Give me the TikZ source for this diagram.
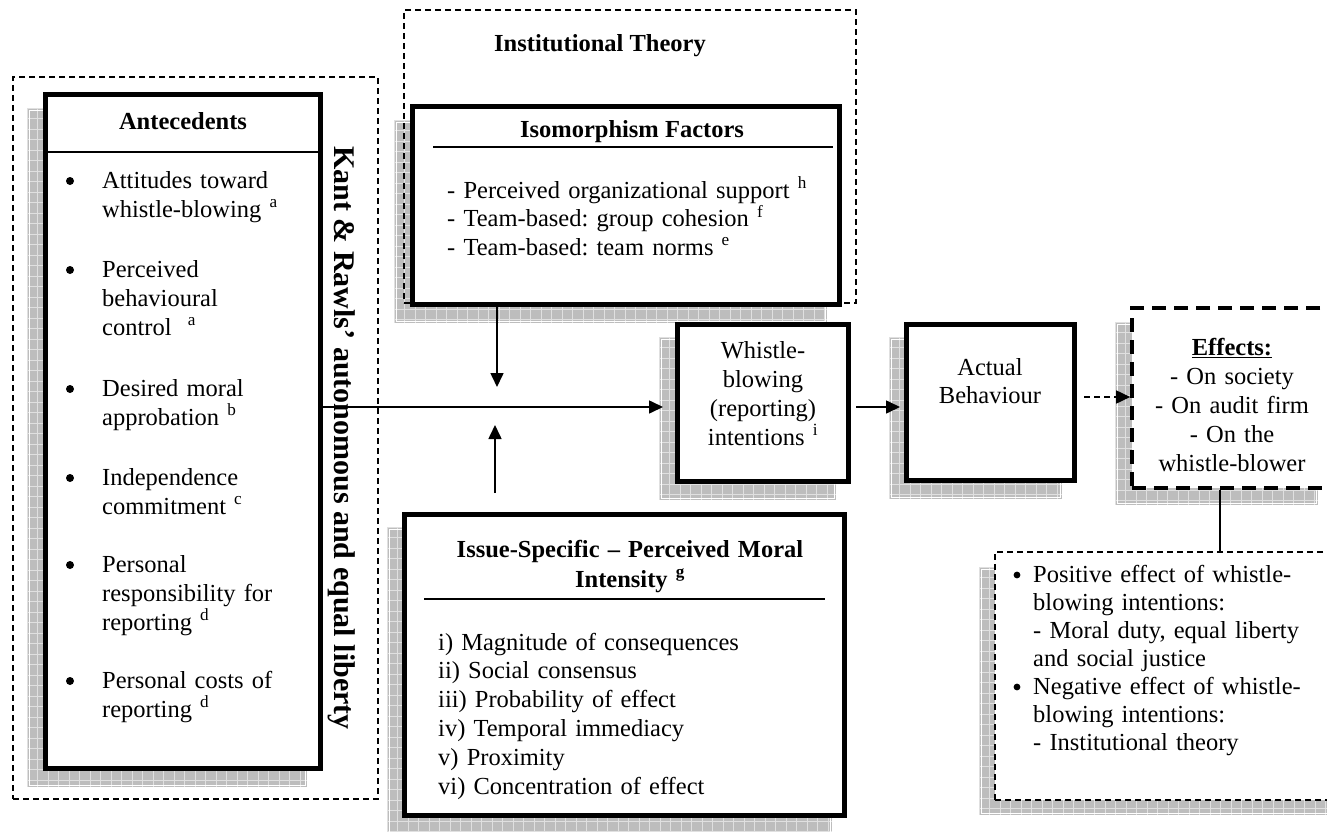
\documentclass[tikz,border=0pt]{standalone}
\usepackage{fontspec}
\setmainfont{Liberation Serif}
\usetikzlibrary{arrows.meta}
\frenchspacing

\colorlet{shadowfill}{black!26}
\colorlet{shadowline}{black!12}

\tikzset{
  thickbox/.style={draw, line width=5pt, fill=white, inner sep=0pt},
  thinframe/.style={draw, line width=1.3pt, dash pattern=on 6pt off 4pt, inner sep=0pt},
  boldframe/.style={draw, fill=white, line width=3.6pt, dash pattern=on 14pt off 8pt, inner sep=0pt},
  txt/.style={inner sep=0pt, font=\fontsize{24.5}{29}\selectfont},
  btxt/.style={inner sep=0pt, font=\fontsize{24.5}{30}\selectfont\bfseries},
  rule/.style={line width=1.3pt},
  arrowline/.style={line width=1.6pt, -{Triangle[length=14pt,width=13pt]}},
  shadowgrid/.style={shadowline, line width=0.7pt},
}

% gray hatched drop shadow: corners (x1,y1) (x2,y2)
\newcommand\gridshadow[4]{%
  \fill[shadowfill] (#1,#2) rectangle (#3,#4);
  \pgfmathsetmacro\gsxb{#1+10.5}%
  \pgfmathsetmacro\gsyb{#2+10.5}%
  \foreach \gx in {#1,\gsxb,...,#3} \draw[shadowgrid] (\gx,#2) -- (\gx,#4);
  \foreach \gy in {#2,\gsyb,...,#4} \draw[shadowgrid] (#1,\gy) -- (#3,\gy);
  \draw[white, line width=0.8pt] (#1+2,#2+2) rectangle (#3-2,#4-2);
}

\begin{document}
\begin{tikzpicture}[x=1pt, y=-1pt]
\useasboundingbox (0,0) rectangle (1327,832);

% drop shadows
\gridshadow{27}{108}{307}{787}
\gridshadow{394}{120}{827}{323}
\gridshadow{659}{337}{836}{500}
\gridshadow{889}{337}{1062}{499}
\gridshadow{1115}{322}{1318}{505}
\gridshadow{387}{527}{832}{834}
\gridshadow{979}{567}{1330}{815}

% boxes
\node[thickbox, minimum width=275pt, minimum height=674pt] (ante) at (183,431.5) {};
\node[thickbox, minimum width=427pt, minimum height=198pt] (iso) at (626,205.5) {};
\node[thickbox, minimum width=171pt, minimum height=157pt] (whistle) at (763,403) {};
\node[thickbox, minimum width=168pt, minimum height=156pt] (actual) at (990.5,402.5) {};
\node[thickbox, minimum width=440pt, minimum height=301pt] (issue) at (624.5,665) {};
\node[boldframe, minimum width=202pt, minimum height=180pt] (effects) at (1233,398) {};
\node[thinframe, fill=white, minimum width=350pt, minimum height=248pt] (expl) at (1170,676) {};

% theory frames
\node[thinframe, minimum width=365pt, minimum height=722pt] (kantframe) at (195.5,438) {};
\node[thinframe, minimum width=452pt, minimum height=293pt] (instframe) at (630,156.5) {};

% header rules
\coordinate (anterule) at (0,152);
\draw[rule] (ante.west |- anterule) -- (ante.east |- anterule);
\draw[rule] (433,147) -- (833,147);
\draw[rule] (424,599) -- (825,599);

% antecedents
\node[btxt, anchor=base] (antetitle) at (183,130) {Antecedents};
\foreach \by in {188,277,396,485,572,688} \fill (70,\by-7) circle (4);
\node[txt, anchor=base west, text width=210pt, align=left] (a1) at (102,188) {Attitudes toward\\whistle-blowing \textsuperscript{a}};
\node[txt, anchor=base west, text width=210pt, align=left] (a2) at (102,277) {Perceived\\behavioural\\control~ \textsuperscript{a}};
\node[txt, anchor=base west, text width=210pt, align=left] (a3) at (102,396) {Desired moral\\approbation \textsuperscript{b}};
\node[txt, anchor=base west, text width=210pt, align=left] (a4) at (102,485) {Independence\\commitment \textsuperscript{c}};
\node[txt, anchor=base west, text width=210pt, align=left] (a5) at (102,572) {Personal\\responsibility for\\reporting \textsuperscript{d}};
\node[txt, anchor=base west, text width=210pt, align=left] (a6) at (102,688) {Personal costs of\\reporting \textsuperscript{d}};

\node[inner sep=0pt, font=\fontsize{30}{36}\selectfont\bfseries, rotate=-90] (kant) at (342,438) {Kant \& Rawls’ autonomous and equal liberty};

% institutional theory
\node[btxt, anchor=base] (insttitle) at (600,52) {Institutional Theory};
\node[btxt, anchor=base] (isotitle) at (632,138) {Isomorphism Factors};
\node[txt, anchor=base west, text width=390pt, align=left, font=\fontsize{24.5}{28.5}\selectfont] (isoitems) at (447,198)
  {- Perceived organizational support \textsuperscript{h}\\- Team-based: group cohesion \textsuperscript{f}\\- Team-based: team norms \textsuperscript{e}};

% moral intensity
\node[btxt, anchor=base, text width=440pt, align=center] (issuetitle) at (630,557) {Issue-Specific – Perceived Moral\\Intensity \textsuperscript{g}};
\node[txt, anchor=base west, text width=390pt, align=left, font=\fontsize{24.5}{28.8}\selectfont] (issueitems) at (438,650)
  {i) Magnitude of consequences\\ii) Social consensus\\iii) Probability of effect\\iv) Temporal immediacy\\v) Proximity\\vi) Concentration of effect};

% intention, behaviour, effects
\node[txt, anchor=base, text width=170pt, align=center] (wtext) at (763,358) {Whistle-\\blowing\\(reporting)\\intentions \textsuperscript{i}};
\node[txt, anchor=base, text width=165pt, align=center, font=\fontsize{24.5}{28}\selectfont] (atext) at (990,375) {Actual\\Behaviour};
\node[txt, anchor=base, text width=200pt, align=center] (etext) at (1232,355) {\textbf{\underline{Effects:}}\\- On society\\- On audit firm\\- On the\\whistle-blower};

\foreach \by in {582,694} \fill (1017,\by-7) circle (3.4);
\node[txt, anchor=base west, text width=290pt, align=left, font=\fontsize{24.5}{28}\selectfont] (expltext) at (1033,582)
  {Positive effect of whistle-\\blowing intentions:\\- Moral duty, equal liberty\\and social justice\\Negative effect of whistle-\\blowing intentions:\\- Institutional theory};

% connectors
\coordinate (mainrow) at (0,407);
\coordinate (downend) at (497,387);
\coordinate (upend) at (495,425);
\coordinate (effrow) at (0,397);
\coordinate (effdrop) at (1220,0);
\draw[arrowline] (ante.east |- mainrow) -- ([xshift=-12pt]whistle.west |- mainrow);
\draw[arrowline] ([xshift=5pt]whistle.east |- mainrow) -- ([xshift=-4pt]actual.west |- mainrow);
\draw[arrowline] (iso.south -| downend) -- (downend);
\draw[arrowline, shorten <=19pt] (issue.north -| upend) -- (upend);
\draw[arrowline, dash pattern=on 6pt off 4pt] ([xshift=7pt]actual.east |- effrow) -- (effects.west |- effrow);
\draw[line width=1.2pt] (effects.south -| effdrop) -- (expl.north -| effdrop);
\end{tikzpicture}
\end{document}
